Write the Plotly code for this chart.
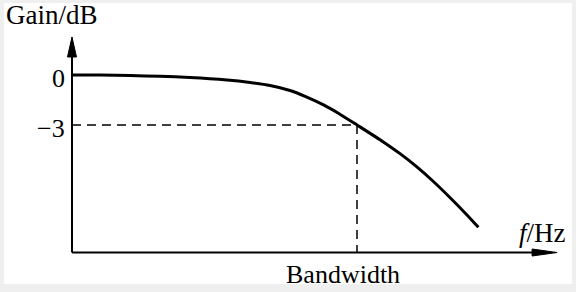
import plotly.graph_objects as go

# ---- data (frequency in units of the bandwidth, gain in dB) ----
freq = [0.0, 0.098, 0.204, 0.309, 0.414, 0.544, 0.625, 0.695, 0.765, 0.818, 0.881, 0.940, 1.0,
        1.091, 1.151, 1.209, 1.268, 1.326, 1.385, 1.426]
gain = [0.0, 0.0, -0.03, -0.08, -0.15, -0.3, -0.45, -0.63, -0.93, -1.28, -1.78, -2.35, -3.0,
        -4.0, -4.72, -5.5, -6.39, -7.35, -8.38, -9.14]
bandwidth_f = 1.0
cutoff_gain = -3.0
tick_vals = [0, -3]
tick_text = ["0", "\u22123"]
x_label = "Bandwidth"
y_title = "Gain/dB"
x_title = "<i>f</i>/Hz"

W, H = 576, 292
# axis ranges chosen so the frame fills the picture
X0, X1 = -0.2526, 1.7684
Y0, Y1 = -13.02, 4.5
px_per_f = W / (X1 - X0)
px_per_db = H / (Y1 - Y0)

axis_f_end = 1.702
axis_g_top = 2.28
axis_g_bottom = -10.65

FONT = "Liberation Serif, Times New Roman, serif"

fig = go.Figure()

# curve
fig.add_trace(go.Scatter(x=freq, y=gain, mode="lines",
                         line=dict(color="black", width=3, shape="spline", smoothing=0.6),
                         hoverinfo="skip", showlegend=False))
# dashed guides
fig.add_trace(go.Scatter(x=[0, bandwidth_f], y=[cutoff_gain, cutoff_gain], mode="lines",
                         line=dict(color="black", width=1.5, dash="9px,6px"), hoverinfo="skip", showlegend=False))
fig.add_trace(go.Scatter(x=[bandwidth_f, bandwidth_f], y=[cutoff_gain, axis_g_bottom], mode="lines",
                         line=dict(color="black", width=1.5, dash="9px,6px"), hoverinfo="skip", showlegend=False))

shapes = []
# background: light grey border with white panel
shapes.append(dict(type="rect", xref="paper", yref="paper", x0=4 / W, x1=572 / W, y0=1 - 284 / H, y1=1 - 3 / H,
                   fillcolor="white", line=dict(width=0), layer="below"))
# axes
arrow_len_y = 20 / px_per_db
arrow_len_x = 25 / px_per_f
shapes.append(dict(type="line", x0=0, x1=0, y0=axis_g_bottom, y1=axis_g_top - arrow_len_y * 0.5,
                   line=dict(color="black", width=2)))
shapes.append(dict(type="line", x0=0, x1=axis_f_end - arrow_len_x * 0.5, y0=axis_g_bottom, y1=axis_g_bottom,
                   line=dict(color="black", width=2)))
# arrowheads
hw = 4.5 / px_per_f
shapes.append(dict(type="path",
                   path=f"M {-hw} {axis_g_top - arrow_len_y} L 0 {axis_g_top} L {hw} {axis_g_top - arrow_len_y} Z",
                   fillcolor="black", line=dict(color="black", width=1)))
hh = 3.5 / px_per_db
shapes.append(dict(type="path",
                   path=f"M {axis_f_end - arrow_len_x} {axis_g_bottom + hh} L {axis_f_end} {axis_g_bottom} "
                        f"L {axis_f_end - arrow_len_x} {axis_g_bottom - hh} Z",
                   fillcolor="black", line=dict(color="black", width=1)))

def px(x):
    return x / W

def py(y):
    return 1 - y / H

ann = []
ann.append(dict(text=y_title, x=px(4), y=py(15), xref="paper", yref="paper", xanchor="left", yanchor="middle",
                showarrow=False, font=dict(family=FONT, size=27, color="black")))
for v, t in zip(tick_vals, tick_text):
    ann.append(dict(text=t, x=-5 / px_per_f, y=v - 3.5 / px_per_db, xanchor="right", yanchor="middle",
                    showarrow=False, font=dict(family=FONT, size=26, color="black")))
ann.append(dict(text=x_label, x=bandwidth_f - 14 / px_per_f, y=axis_g_bottom - 22 / px_per_db, xanchor="center",
                yanchor="middle", showarrow=False, font=dict(family=FONT, size=26, color="black")))
ann.append(dict(text=x_title, x=px(517), y=py(233), xref="paper", yref="paper", xanchor="left", yanchor="middle",
                showarrow=False, font=dict(family=FONT, size=27, color="black")))

fig.update_layout(
    width=W, height=H, margin=dict(l=0, r=0, t=0, b=0),
    paper_bgcolor="#efefef", plot_bgcolor="rgba(0,0,0,0)",
    xaxis=dict(range=[X0, X1], visible=False, fixedrange=True),
    yaxis=dict(range=[Y0, Y1], visible=False, fixedrange=True),
    shapes=shapes, annotations=ann, showlegend=False,
)

fig.write_html("out.html", config={"displayModeBar": False})
